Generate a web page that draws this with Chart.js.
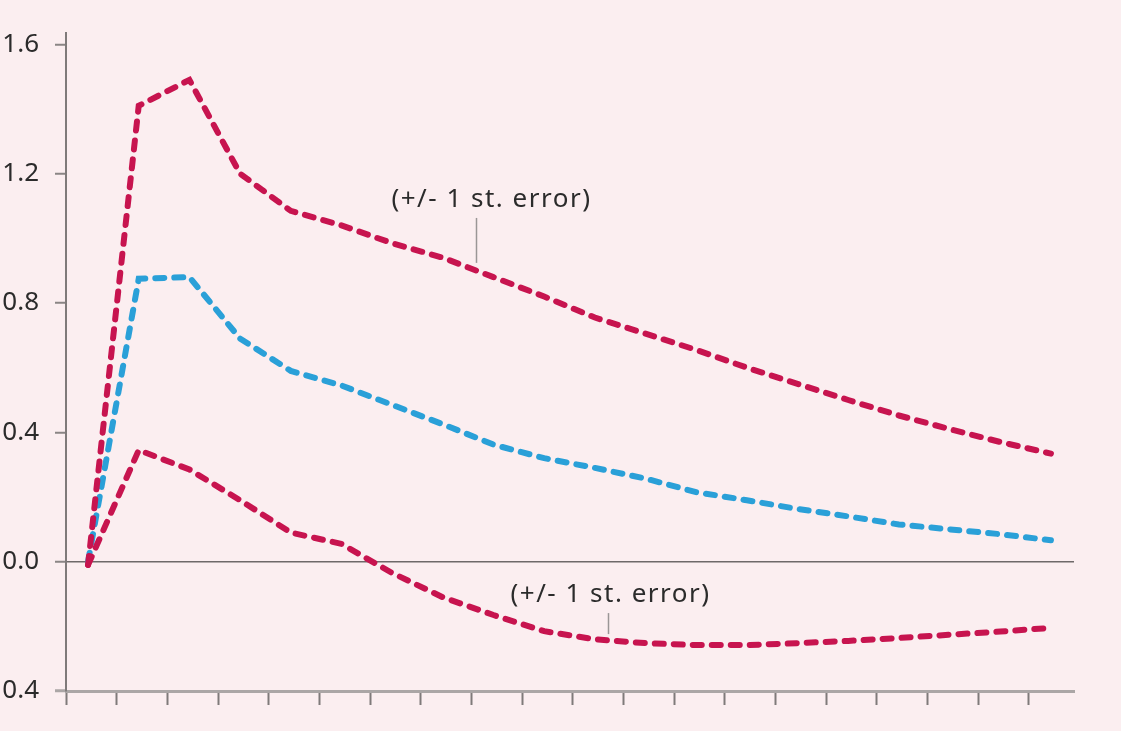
<!DOCTYPE html>
<html>
<head>
<meta charset="utf-8">
<script src="https://cdn.jsdelivr.net/npm/chart.js@4.4.1/dist/chart.umd.min.js"></script>
<style>
  html, body { margin: 0; padding: 0; background: #fbeef0; }
  #wrap { width: 1121px; height: 731px; }
</style>
</head>
<body>
<div id="wrap"><canvas id="chart" width="1121" height="731"></canvas></div>
<script>
// periods after the shock
const periods = [0, 1, 2, 3, 4, 5, 6, 7, 8, 9, 10, 11, 12, 13, 14, 15, 16, 17, 18, 19];

// upper band (+1 st. error)
const upperBand = [-0.01, 1.41, 1.49, 1.20, 1.085, 1.04, 0.985, 0.94, 0.88, 0.82,
                   0.755, 0.705, 0.655, 0.60, 0.55, 0.50, 0.452, 0.41, 0.37, 0.334];
// point estimate
const response = [0.0, 0.875, 0.88, 0.69, 0.59, 0.545, 0.485, 0.425, 0.362, 0.32,
                  0.29, 0.257, 0.215, 0.19, 0.163, 0.14, 0.115, 0.10, 0.085, 0.066];
// lower band (-1 st. error)
const lowerBand = [-0.01, 0.345, 0.285, 0.19, 0.09, 0.055, -0.035, -0.11, -0.165, -0.215,
                   -0.24, -0.252, -0.258, -0.258, -0.252, -0.245, -0.236, -0.226, -0.216, -0.205];

const yTickValues = [-0.4, 0, 0.4, 0.8, 1.2, 1.6];
const yTickLabels = ["0.4", "0.0", "0.4", "0.8", "1.2", "1.6"];
const noteText = "(+/- 1 st. error)";

const red = "#c7144f";
const blue = "#2aa0d8";
const fontFamily = "'Noto Sans', 'Open Sans', sans-serif";

// text + leader line for the two error bands
const notesPlugin = {
    id: "notes",
    afterDatasetsDraw(chart) {
        const { ctx, scales: { x, y } } = chart;
        const notes = [
            { x: 7.96, y: 1.097, lineX: 7.66, top: 1.063, bottom: 0.924 },
            { x: 10.31, y: -0.125, lineX: 10.25, top: -0.159, bottom: -0.224 },
        ];
        ctx.save();
        ctx.font = "26px " + fontFamily;
        ctx.letterSpacing = "1.5px";
        ctx.fillStyle = "#2b2b2b";
        ctx.textAlign = "center";
        ctx.textBaseline = "alphabetic";
        ctx.strokeStyle = "#9a9696";
        ctx.lineWidth = 1.5;
        notes.forEach((n) => {
            ctx.fillText(noteText, x.getPixelForValue(n.x), y.getPixelForValue(n.y));
            const lx = Math.round(x.getPixelForValue(n.lineX)) + 0.5;
            ctx.beginPath();
            ctx.moveTo(lx, y.getPixelForValue(n.top));
            ctx.lineTo(lx, y.getPixelForValue(n.bottom));
            ctx.stroke();
        });
        ctx.restore();
    },
};

const lineStyle = {
    borderWidth: 6,
    borderDash: [9, 10],
    borderCapStyle: "round",
    pointRadius: 0,
    tension: 0,
    fill: false,
};

new Chart(document.getElementById("chart").getContext("2d"), {
    type: "line",
    data: {
        datasets: [
            { label: "upper", data: periods.map((p, i) => ({ x: p, y: upperBand[i] })), borderColor: red, ...lineStyle },
            { label: "lower", data: periods.map((p, i) => ({ x: p, y: lowerBand[i] })), borderColor: red, ...lineStyle },
            { label: "response", data: periods.map((p, i) => ({ x: p, y: response[i] })), borderColor: blue, ...lineStyle },
        ],
    },
    options: {
        responsive: false,
        animation: false,
        layout: { padding: { left: 0, top: 33, right: 47, bottom: 26 } },
        plugins: {
            legend: { display: false },
            tooltip: { enabled: false },
        },
        scales: {
            x: {
                type: "linear",
                min: -0.435,
                max: 19.455,
                afterBuildTicks: (scale) => {
                    scale.ticks = periods.map((p, i) => ({ value: scale.min + i }));
                },
                afterFit: (scale) => { scale.height = 14; },
                ticks: { display: false, autoSkip: false },
                grid: {
                    drawOnChartArea: false,
                    drawTicks: true,
                    tickLength: 14,
                    tickColor: "#7f7a7a",
                    tickWidth: 2,
                },
                border: { color: "#aba6a6", width: 3 },
            },
            y: {
                min: -0.4,
                max: 1.635,
                afterBuildTicks: (scale) => {
                    scale.ticks = yTickValues.map((v) => ({ value: v }));
                },
                afterFit: (scale) => { scale.width = 66; },
                ticks: {
                    padding: 16,
                    color: "#2b2b2b",
                    font: { family: fontFamily, size: 26 },
                    callback: (v, i) => yTickLabels[i],
                },
                grid: {
                    drawTicks: true,
                    tickLength: 11,
                    color: (c) => (c.tick && c.tick.value === 0 ? "#6e6969" : "rgba(0,0,0,0)"),
                    lineWidth: 1.5,
                    tickColor: (c) => (c.tick && c.tick.value === -0.4 ? "#aba6a6" : "#8a8585"),
                    tickWidth: (c) => (c.tick && c.tick.value === -0.4 ? 3 : 2),
                },
                border: { color: "#7f7a7a", width: 2 },
            },
        },
    },
    plugins: [notesPlugin],
});
</script>
</body>
</html>
